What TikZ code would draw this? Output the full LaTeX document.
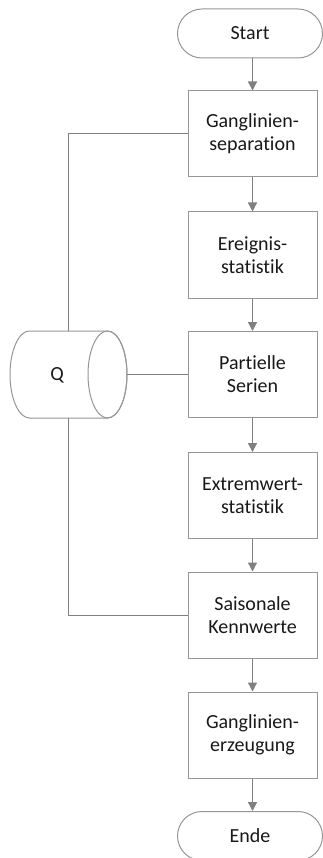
\documentclass[tikz,border=0pt]{standalone}
\usepackage{fontspec}
\setmainfont{Carlito}[Ligatures=NoCommon]
\usetikzlibrary{arrows.meta,shapes.misc}
\definecolor{linegray}{RGB}{128,128,128}
\definecolor{boxgray}{RGB}{150,150,150}
\definecolor{txt}{RGB}{25,25,25}
\tikzset{
  procbox/.style={draw=boxgray, line width=1pt, fill=white, minimum width=129pt,
    minimum height=86pt, inner sep=0pt, align=center, text=txt,
    font=\fontsize{20}{23}\selectfont},
  termbox/.style={rounded rectangle, draw=boxgray, line width=1pt, fill=white,
    minimum width=145pt, minimum height=49pt, inner sep=0pt, text=txt,
    font=\fontsize{20}{23}\selectfont},
  flow/.style={draw=linegray, line width=1.3pt, -{Triangle[length=9pt,width=9pt]}},
  link/.style={draw=linegray, line width=1pt},
}
\begin{document}
\begin{tikzpicture}[x=1pt,y=-1pt]
\useasboundingbox (0,0) rectangle (323,858);

% main chain
\node[termbox] (start) at (250,33.5) {Start};
\node[procbox] (b1) at (252.5,134) {Ganglinien-\\separation};
\node[procbox] (b2) at (252.5,255) {Ereignis-\\statistik};
\node[procbox] (b3) at (252.5,374.5) {Partielle\\Serien};
\node[procbox] (b4) at (252.5,495.5) {Extremwert-\\statistik};
\node[procbox] (b5) at (252.5,615) {Saisonale\\Kennwerte};
\node[procbox] (b6) at (252.5,735) {Ganglinien-\\erzeugung};
\node[termbox] (ende) at (250,836) {Ende};

\draw[flow] (start.south -| b1.north) -- (b1.north);
\draw[flow] (b1) -- (b2);
\draw[flow] (b2) -- (b3);
\draw[flow] (b3) -- (b4);
\draw[flow] (b4) -- (b5);
\draw[flow] (b5) -- (b6);
\draw[flow] (b6.south) -- (b6.south |- ende.north);

% data store Q (horizontal cylinder); radii in pt so the arcs use page orientation
\draw[boxgray, line width=1pt, fill=white]
  (29.5,331) -- (107.5,331) arc[start angle=90, end angle=-90, x radius=19.5pt, y radius=43.5pt]
  -- (29.5,418) arc[start angle=270, end angle=90, x radius=19.5pt, y radius=43.5pt] -- cycle;
\draw[boxgray, line width=1pt]
  (107.5,374.5) ellipse[x radius=19.5pt, y radius=43.5pt];
\node[text=txt, font=\fontsize{20}{23}\selectfont] (q) at (57,375) {Q};
\coordinate (qtop) at (68.5,331);
\coordinate (qbot) at (68.5,418);
\coordinate (qright) at (127,374.5);

\draw[link] (b1.west) -| (qtop);
\draw[link] (qright) -- (b3.west);
\draw[link] (qbot) |- (b5.west);
\end{tikzpicture}
\end{document}
